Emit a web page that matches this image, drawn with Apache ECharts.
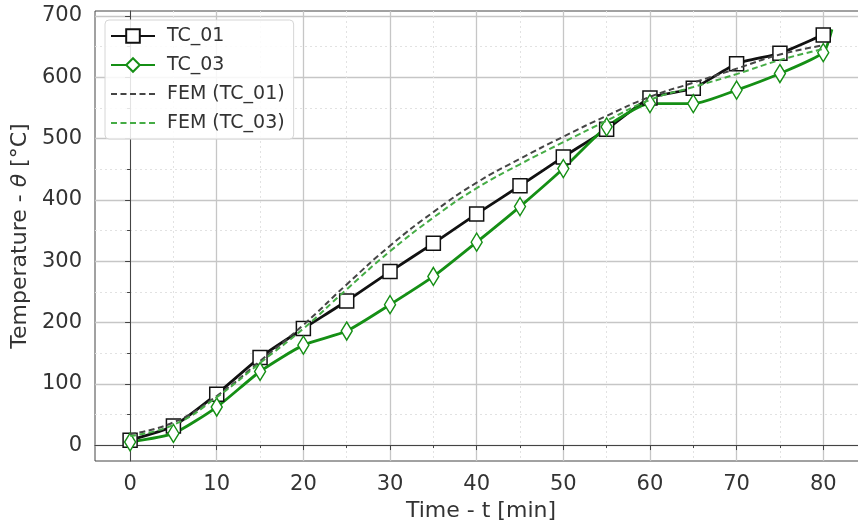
<!DOCTYPE html>
<html>
<head>
<meta charset="utf-8">
<script src="https://cdn.jsdelivr.net/npm/echarts@6/dist/echarts.min.js"></script>
<style>
html,body{margin:0;padding:0;background:#fff;}
#chart{width:858px;height:521px;}
</style>
</head>
<body>
<div id="chart"></div>
<script>
// ---- data ----
const timeMin = [0, 5, 10, 15, 20, 25, 30, 35, 40, 45, 50, 55, 60, 65, 70, 75, 80];
const tc01 = [8, 31, 83, 143, 190, 235, 283, 329, 377, 423, 470, 515, 566, 582, 622, 639, 669];
const tc03 = [5, 19, 62, 120, 163, 186, 229, 275, 331, 389, 451, 519, 557, 557, 579, 606, 640];
const tc01End = [80.8, 673];
const tc03End = [81, 678];
const fem01 = [18, 37, 80, 137, 196, 262, 325, 380, 428, 467, 503, 537, 568, 591, 614, 637, 652];
const fem03 = [15, 33, 78, 134, 190, 254, 316, 371, 419, 458, 494, 529, 563, 584, 605, 628, 646];
const xMajor = [0, 10, 20, 30, 40, 50, 60, 70, 80];
const xMinor = [5, 15, 25, 35, 45, 55, 65, 75];
const yMajor = [0, 100, 200, 300, 400, 500, 600, 700];
const yMinor = [50, 150, 250, 350, 450, 550, 650];

const pairs = (xs, ys) => xs.map((x, i) => [x, ys[i]]);
const markEvery = (size) => (v) => (v[0] % 5 === 0 ? size : 0);

const FONT = 'DejaVu Sans';
const axisCol = '#444';
const majorGrid = { show: true, lineStyle: { color: '#c6c6c6', width: 1.3 } };
const minorGrid = { show: true, lineStyle: { color: '#e2e2e2', width: 1, type: [2, 3] } };
const hidden = { color: 'rgba(0,0,0,0)', borderColor: 'rgba(0,0,0,0)', borderWidth: 0, opacity: 0 };

const chart = echarts.init(document.getElementById('chart'), null, { renderer: 'canvas' });
chart.setOption({
  animation: false,
  backgroundColor: '#fff',
  textStyle: { fontFamily: FONT },
  grid: { left: 95, right: -9, top: 11, bottom: 60, containLabel: false, outerBoundsMode: 'none',
          show: true, borderColor: axisCol, borderWidth: 1, backgroundColor: 'transparent' },
  legend: {
    orient: 'vertical', left: 105, top: 20,
    padding: [6, 9, 6, 5], itemGap: 9, itemWidth: 44, itemHeight: 17,
    backgroundColor: 'rgba(255,255,255,0.85)', borderColor: '#d6d6d6', borderWidth: 1, borderRadius: 4,
    textStyle: { fontFamily: FONT, fontSize: 19, color: '#333', lineHeight: 20, padding: [0, 0, 0, 7] },
    data: ['TC_01', 'TC_03', 'FEM (TC_01)', 'FEM (TC_03)']
  },
  xAxis: [
    {
      type: 'value', min: -4.05, max: 85.05, position: 'bottom',
      name: 'Time - t [min]', nameLocation: 'middle', nameGap: 28,
      nameTextStyle: { fontFamily: FONT, fontSize: 22, color: '#333', verticalAlign: 'top' },
      axisLine: { show: true, lineStyle: { color: axisCol, width: 1 } },
      axisTick: { show: true, customValues: xMajor, length: 5, lineStyle: { color: axisCol } },
      axisLabel: { customValues: xMajor, fontFamily: FONT, fontSize: 21, color: '#333', margin: 13 },
      splitLine: majorGrid
    },
    {
      type: 'value', min: -4.05, max: 85.05, position: 'bottom',
      axisLine: { show: false },
      axisTick: { show: true, customValues: xMinor, length: 3, lineStyle: { color: axisCol } },
      axisLabel: { show: false, customValues: xMinor },
      splitLine: minorGrid
    }
  ],
  yAxis: [
    {
      type: 'value', min: -26, max: 708,
      name: 'Temperature - {i|θ} [°C]', nameLocation: 'middle', nameGap: 60, nameRotate: 90,
      nameTextStyle: { fontFamily: FONT, fontSize: 22, color: '#333',
        rich: { i: { fontFamily: FONT, fontSize: 22, fontStyle: 'italic', color: '#333' } } },
      axisLine: { show: true, lineStyle: { color: axisCol, width: 1 } },
      axisTick: { show: true, customValues: yMajor, length: 5, lineStyle: { color: axisCol } },
      axisLabel: { customValues: yMajor, fontFamily: FONT, fontSize: 21, color: '#333', margin: 13 },
      splitLine: majorGrid
    },
    {
      type: 'value', min: -26, max: 708, position: 'left',
      axisLine: { show: false },
      axisTick: { show: true, customValues: yMinor, length: 3, lineStyle: { color: axisCol } },
      axisLabel: { show: false, customValues: yMinor },
      splitLine: minorGrid
    }
  ],
  series: [
    {
      name: 'TC_01', type: 'line', xAxisIndex: 0, yAxisIndex: 0,
      data: pairs(timeMin, tc01).concat([tc01End]),
      smooth: 0.2, showAllSymbol: true,
      symbol: 'rect', symbolSize: markEvery(14),
      lineStyle: { color: '#111', width: 2.8 },
      itemStyle: { color: '#fff', borderColor: '#111', borderWidth: 1.5 },
      z: 3
    },
    {
      name: 'TC_03', type: 'line', xAxisIndex: 0, yAxisIndex: 0,
      data: pairs(timeMin, tc03).concat([tc03End]),
      smooth: 0.2, showAllSymbol: true,
      symbol: 'diamond', symbolSize: markEvery([11, 18]),
      lineStyle: { color: '#158f15', width: 2.8 },
      itemStyle: { color: '#fff', borderColor: '#158f15', borderWidth: 1.5 },
      z: 3
    },
    {
      name: 'FEM (TC_01)', type: 'line', xAxisIndex: 0, yAxisIndex: 0,
      data: pairs(timeMin, fem01),
      smooth: true, symbol: 'none',
      lineStyle: { color: '#454545', width: 2, type: [6, 3.5] },
      itemStyle: hidden,
      z: 4
    },
    {
      name: 'FEM (TC_03)', type: 'line', xAxisIndex: 0, yAxisIndex: 0,
      data: pairs(timeMin, fem03),
      smooth: true, symbol: 'none',
      lineStyle: { color: '#45ac45', width: 2, type: [6, 3.5] },
      itemStyle: hidden,
      z: 4
    }
  ]
});
</script>
</body>
</html>
